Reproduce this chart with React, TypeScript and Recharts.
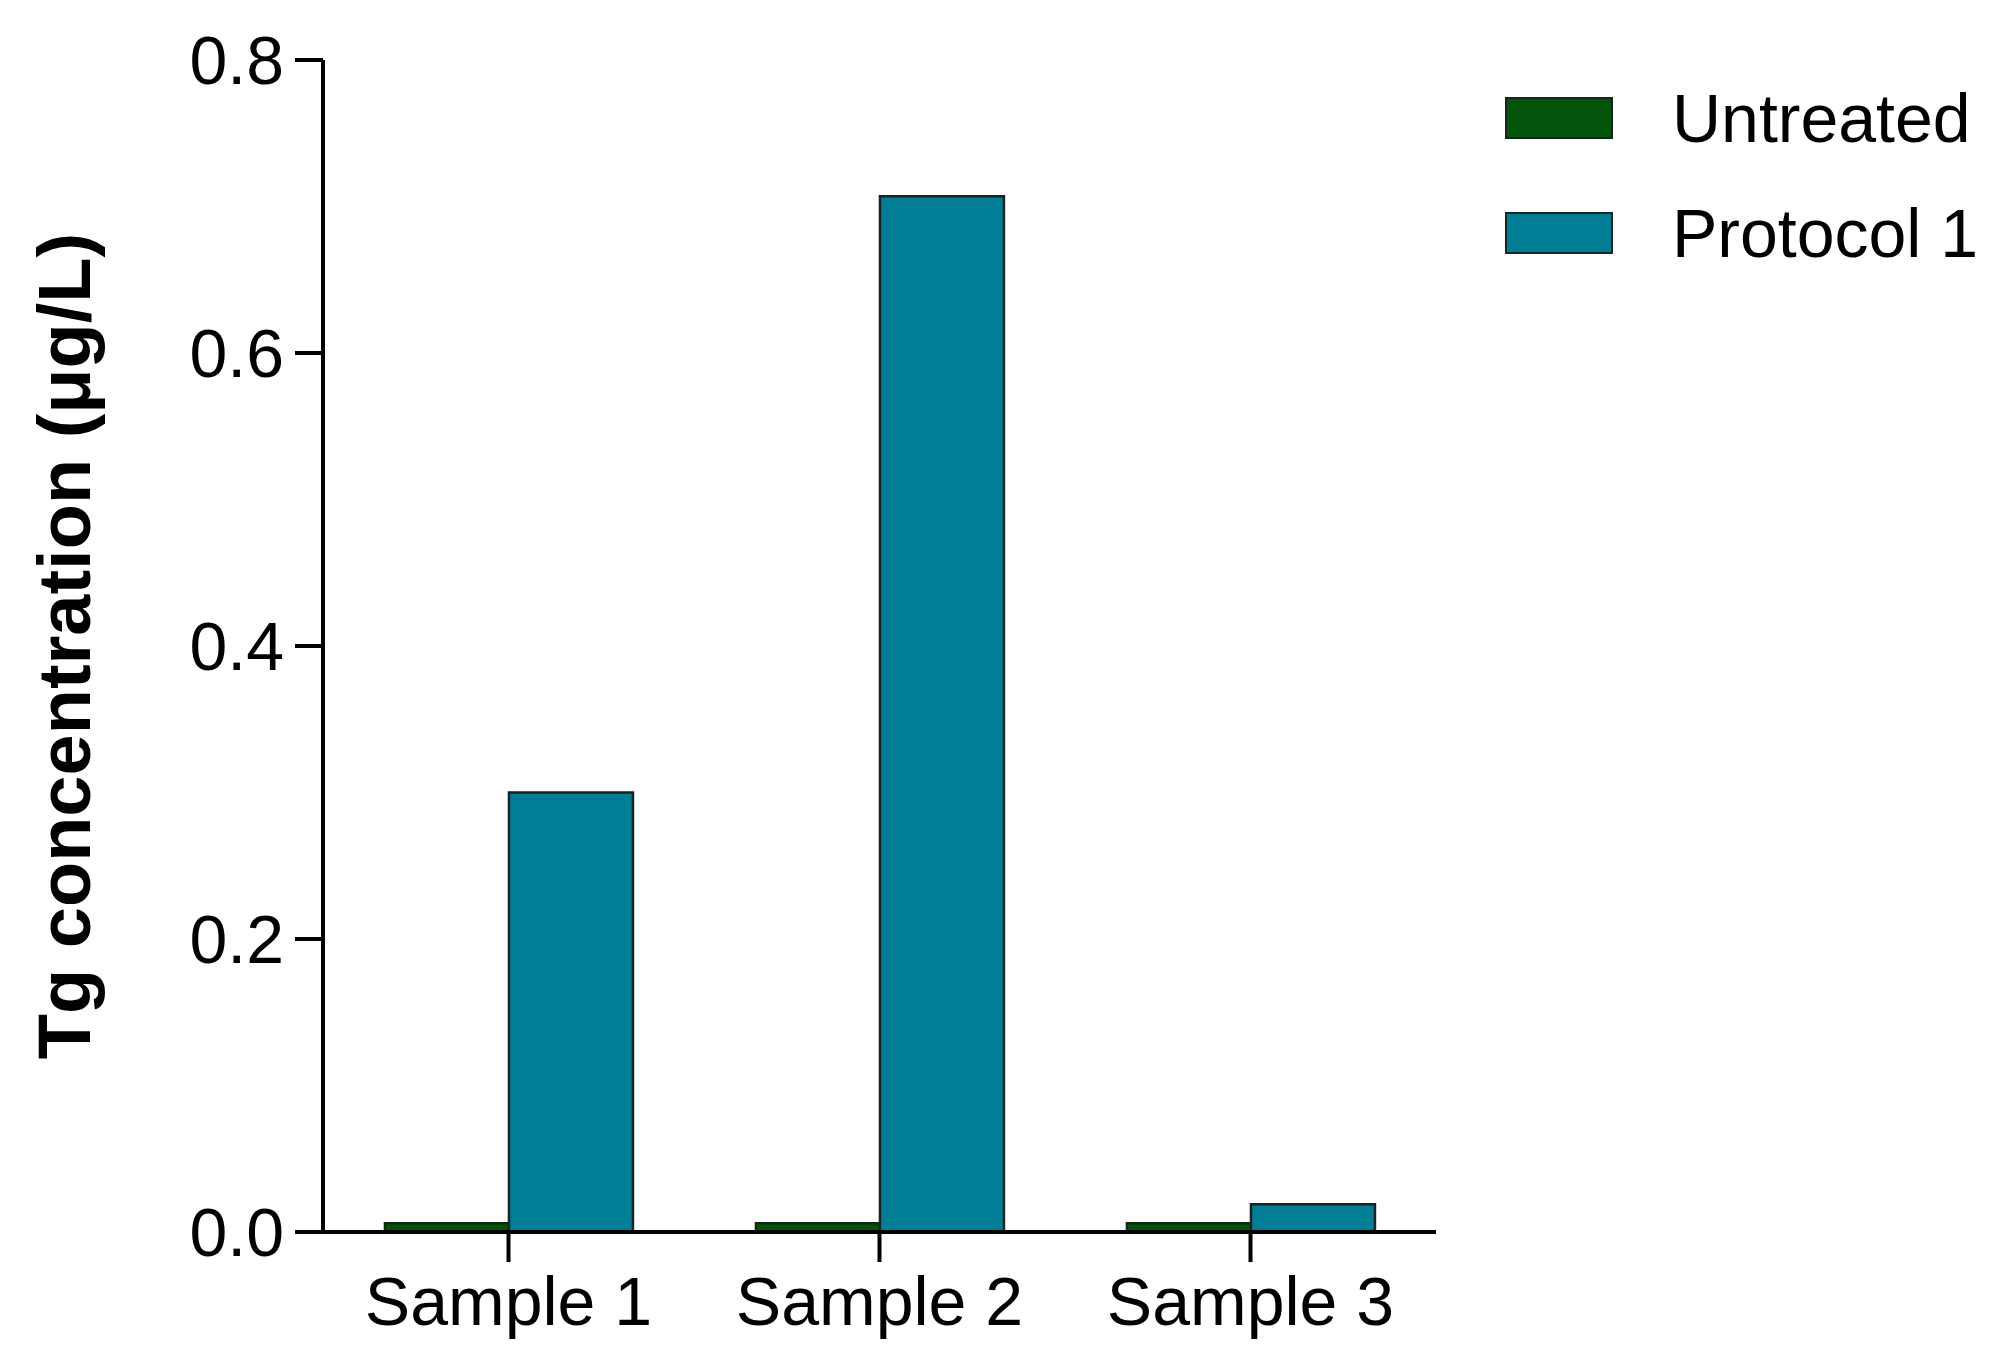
import React from 'react';
import { BarChart, Bar, XAxis, YAxis, Legend } from 'recharts';

const categories = ['Sample 1', 'Sample 2', 'Sample 3'];
const untreated = [0.006, 0.006, 0.006];
const protocol1 = [0.3, 0.707, 0.019];
const yTicks = [0, 0.2, 0.4, 0.6, 0.8];

const seriesOrder = ['Untreated', 'Protocol 1'];
const colors = { untreated: '#03540a', protocol1: '#027d96' };

const data = categories.map((c, i) => ({ name: c, untreated: untreated[i], protocol1: protocol1[i] }));

const FONT = '"Liberation Sans", Arial, Helvetica, sans-serif';

const LegendContent = (props: any) => {
  const payload = [...(props.payload || [])].sort(
    (a: any, b: any) => seriesOrder.indexOf(a.value) - seriesOrder.indexOf(b.value)
  );
  return (
    <div style={{ fontFamily: FONT }}>
      {payload.map((p: any) => (
        <div key={p.value} style={{ display: 'flex', alignItems: 'center', height: 115 }}>
          <div
            style={{
              width: 104,
              height: 38,
              background: p.color,
              border: '2.5px solid #1a2323',
              marginRight: 59,
            }}
          />
          <span style={{ fontSize: 68, color: '#000', lineHeight: 1 }}>{p.value}</span>
        </div>
      ))}
    </div>
  );
};

const YLabel = (props: any) => {
  const vb = props.viewBox || {};
  const cy = vb.y + vb.height / 2;
  const cx = 64;
  return (
    <text
      x={cx}
      y={cy}
      transform={`rotate(-90, ${cx}, ${cy})`}
      textAnchor="middle"
      dominantBaseline="central"
      fontFamily={FONT}
      fontWeight="bold"
      fontSize={74}
      fill="#000"
    >
      Tg concentration (μg/L)
    </text>
  );
};

export default function App() {
  return (
    <div style={{ position: 'absolute', left: 0, top: 0, width: 2012, height: 1362, background: '#fff' }}>
      <BarChart
        width={2012}
        height={1362}
        data={data}
        margin={{ top: 60, right: 576, bottom: 0, left: 123 }}
        barCategoryGap="16.7%"
        barGap={0}
      >
        <XAxis
          dataKey="name"
          height={130}
          tickSize={30}
          tickMargin={15}
          axisLine={{ stroke: '#000', strokeWidth: 4 }}
          tickLine={{ stroke: '#000', strokeWidth: 4 }}
          tick={{ fill: '#000', fontSize: 68, fontFamily: FONT }}
          interval={0}
        />
        <YAxis
          width={200}
          domain={[0, 0.8]}
          ticks={yTicks}
          tickFormatter={(v: number) => v.toFixed(1)}
          tickSize={28}
          tickMargin={11}
          axisLine={{ stroke: '#000', strokeWidth: 4 }}
          tickLine={{ stroke: '#000', strokeWidth: 4 }}
          tick={{ fill: '#000', fontSize: 68, fontFamily: FONT }}
          label={<YLabel />}
        />
        <Legend
          layout="vertical"
          align="center"
          verticalAlign="middle"
          content={<LegendContent />}
          wrapperStyle={{ left: 1505, top: 60, width: 500, bottom: 'auto', right: 'auto' }}
        />
        <Bar
          dataKey="untreated"
          name="Untreated"
          fill={colors.untreated}
          stroke="#0f2a10"
          strokeWidth={2.5}
          isAnimationActive={false}
        />
        <Bar
          dataKey="protocol1"
          name="Protocol 1"
          fill={colors.protocol1}
          stroke="#1a2323"
          strokeWidth={2.5}
          isAnimationActive={false}
        />
      </BarChart>
    </div>
  );
}
